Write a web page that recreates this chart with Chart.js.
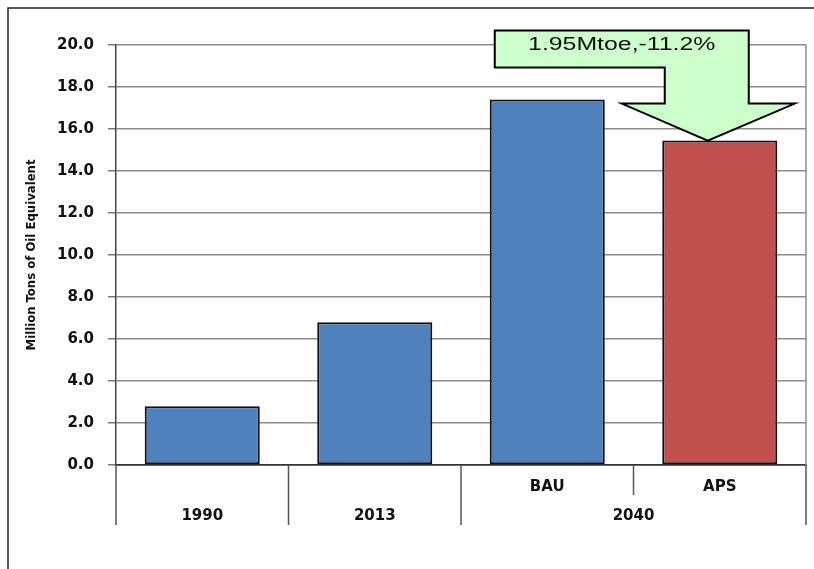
<!DOCTYPE html>
<html>
<head>
<meta charset="utf-8">
<title>Energy demand 1990-2040</title>
<script src="https://cdn.jsdelivr.net/npm/chart.js@4.4.0/dist/chart.umd.min.js"></script>
<style>
  html, body { margin: 0; padding: 0; background: #fff; }
  #wrap { position: relative; width: 814px; height: 569px; }
</style>
</head>
<body>
<div id="wrap"><canvas id="demandChart" width="814" height="569"></canvas></div>
<script>
// Bars: one per scenario column
const categories = ['1990', '2013', 'BAU', 'APS'];
const scenarioLabels = ['', '', 'BAU', 'APS'];
const energyValues = [2.8, 6.8, 17.4, 15.45];
const barColors = ['#4f81bd', '#4f81bd', '#4f81bd', '#c0504d'];

// Second row of the category axis: year groups and how many columns each spans
const periodLabels = ['1990', '2013', '2040'];
const periodSpans = [1, 1, 2];

const yTitle = 'Million Tons of Oil Equivalent';
const calloutText = '1.95Mtoe,-11.2%';

const tickFont = { family: 'DejaVu Sans', size: 15, weight: 'bold' };

// Frame lines, plot border and the two-row category axis
const axisPlugin = {
  id: 'axisRows',
  beforeDraw(chart) {
    const ctx = chart.ctx;
    ctx.save();
    ctx.strokeStyle = '#222';
    ctx.lineWidth = 1.5;
    ctx.beginPath();
    ctx.moveTo(8, chart.height);
    ctx.lineTo(8, 8);
    ctx.lineTo(chart.width, 8);
    ctx.stroke();
    ctx.restore();
  },
  afterDraw(chart) {
    const ctx = chart.ctx;
    const area = chart.chartArea;
    const x = chart.scales.x;
    const step = (area.right - area.left) / categories.length;
    const edge = i => area.left + i * step;

    ctx.save();
    // right border of the plot
    ctx.strokeStyle = '#8c8c8c';
    ctx.lineWidth = 1.5;
    ctx.beginPath();
    ctx.moveTo(area.right, area.top);
    ctx.lineTo(area.right, area.bottom);
    ctx.stroke();

    // group dividers down to the bottom row
    ctx.strokeStyle = '#555';
    ctx.lineWidth = 1.5;
    let idx = 0;
    const full = [0];
    periodSpans.forEach(s => { idx += s; full.push(idx); });
    full.forEach(i => {
      ctx.beginPath();
      ctx.moveTo(edge(i), area.bottom);
      ctx.lineTo(edge(i), area.bottom + 60);
      ctx.stroke();
    });
    // short dividers between scenarios inside a group
    idx = 0;
    periodSpans.forEach(s => {
      for (let k = 1; k < s; k++) {
        ctx.beginPath();
        ctx.moveTo(edge(idx + k), area.bottom);
        ctx.lineTo(edge(idx + k), area.bottom + 30);
        ctx.stroke();
      }
      idx += s;
    });

    ctx.fillStyle = '#111';
    ctx.font = 'bold 15px "DejaVu Sans"';
    ctx.textAlign = 'center';
    ctx.textBaseline = 'middle';
    scenarioLabels.forEach((lbl, i) => {
      if (lbl) ctx.fillText(lbl, x.getPixelForValue(i), area.bottom + 22);
    });
    idx = 0;
    periodLabels.forEach((lbl, i) => {
      const cx = (edge(idx) + edge(idx + periodSpans[i])) / 2;
      ctx.fillText(lbl, cx, area.bottom + 51);
      idx += periodSpans[i];
    });

    // callout arrow pointing at the APS bar top
    const y = chart.scales.y;
    const tx = x.getPixelForValue(3) - 12;
    const ty = y.getPixelForValue(energyValues[3]);
    const pts = [
      [tx - 213, ty - 110], [tx + 41, ty - 110], [tx + 41, ty - 37],
      [tx + 87, ty - 37], [tx, ty], [tx - 86, ty - 37],
      [tx - 43, ty - 37], [tx - 43, ty - 73], [tx - 213, ty - 73]
    ];
    ctx.beginPath();
    pts.forEach((p, i) => i ? ctx.lineTo(p[0], p[1]) : ctx.moveTo(p[0], p[1]));
    ctx.closePath();
    ctx.fillStyle = '#ccffcc';
    ctx.fill();
    ctx.strokeStyle = '#000';
    ctx.lineWidth = 2;
    ctx.stroke();

    ctx.save();
    ctx.translate(tx - 86, ty - 96);
    ctx.scale(1.38, 1);
    ctx.fillStyle = '#111';
    ctx.font = '18px "Liberation Sans", Arial, sans-serif';
    ctx.textAlign = 'center';
    ctx.textBaseline = 'middle';
    ctx.fillText(calloutText, 0, 0);
    ctx.restore();

    ctx.restore();
  }
};

new Chart(document.getElementById('demandChart'), {
  type: 'bar',
  data: {
    labels: categories,
    datasets: [{
      data: energyValues,
      backgroundColor: barColors,
      borderColor: '#111',
      borderWidth: 2,
      borderSkipped: false,
      barPercentage: 0.667,
      categoryPercentage: 1
    }]
  },
  options: {
    responsive: false,
    animation: false,
    layout: { padding: { left: 24, top: 45, right: 8, bottom: 0 } },
    plugins: {
      legend: { display: false },
      tooltip: { enabled: false }
    },
    scales: {
      x: {
        ticks: { display: false },
        grid: { display: false },
        border: { display: true, color: '#333', width: 1.5 },
        afterFit(scale) { scale.height = 104; }
      },
      y: {
        min: 0,
        max: 20,
        ticks: {
          stepSize: 2,
          padding: 14,
          color: '#111',
          font: tickFont,
          callback: v => v.toFixed(1)
        },
        grid: {
          color: ctx => ctx.tick && ctx.tick.value === 0 ? '#333' : '#8c8c8c',
          lineWidth: 1.5,
          tickLength: 8,
          tickColor: '#777'
        },
        border: { color: '#444', width: 1.5 },
        title: {
          display: true,
          text: yTitle,
          color: '#111',
          padding: { top: 0, bottom: 0 },
          font: { family: '"Liberation Sans Narrow", "Arial Narrow", "DejaVu Sans Condensed", sans-serif', size: 13, weight: 'bold' }
        },
        afterFit(scale) { scale.width = 116 - 24; }
      }
    }
  },
  plugins: [axisPlugin]
});
</script>
</body>
</html>
